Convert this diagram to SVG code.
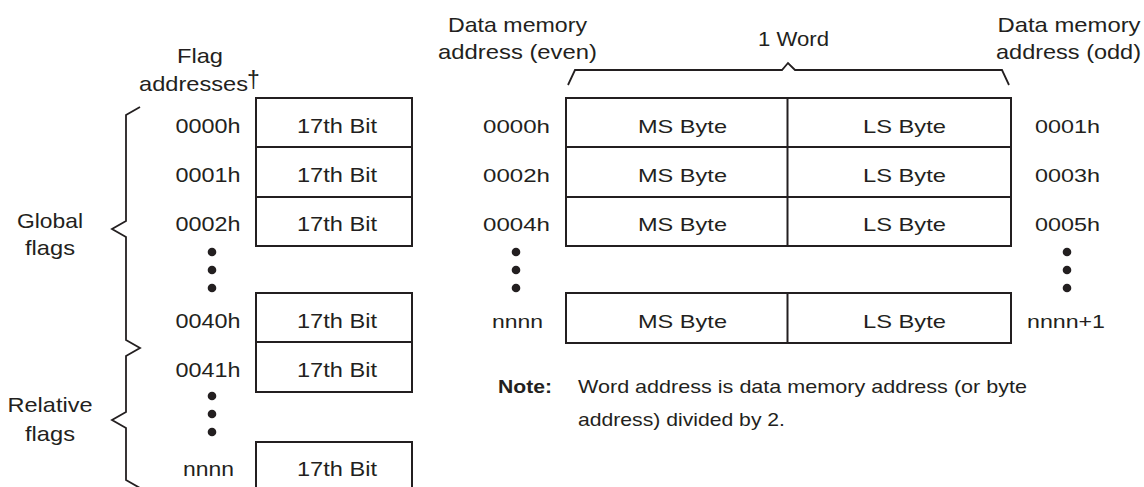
<svg xmlns="http://www.w3.org/2000/svg" width="1144" height="487" viewBox="0 0 1144 487">
<style>
text{font-family:"Liberation Sans",Arial,sans-serif;fill:#231f20}
.big{font-size:21px}
.sm{font-size:18.5px}
.c{text-anchor:middle}
.b{font-weight:bold}
.box{fill:#fff;stroke:#231f20;stroke-width:2}
.ln{fill:none;stroke:#231f20;stroke-width:1.8;stroke-linejoin:miter}
.dot{fill:#231f20}
</style>
<rect width="1144" height="487" fill="#fff"/>

<g id="flag-header">
<text class="big c" x="200" y="63" textLength="46" lengthAdjust="spacingAndGlyphs">Flag</text>
<text class="big" x="139" y="91" textLength="109" lengthAdjust="spacingAndGlyphs">addresses</text>
<text x="253.5" y="88" style="font-size:23px" text-anchor="middle">†</text>
</g>

<g id="global-label">
<text class="big c" x="50" y="228" textLength="66" lengthAdjust="spacingAndGlyphs">Global</text>
<text class="big c" x="50" y="255" textLength="50" lengthAdjust="spacingAndGlyphs">flags</text>
</g>
<g id="relative-label">
<text class="big c" x="50" y="412" textLength="85" lengthAdjust="spacingAndGlyphs">Relative</text>
<text class="big c" x="50" y="441" textLength="50" lengthAdjust="spacingAndGlyphs">flags</text>
</g>

<g id="flag-0000h">
<rect class="box" x="256" y="98" width="156" height="49"/>
<text class="big c" x="208" y="133" textLength="65" lengthAdjust="spacingAndGlyphs">0000h</text>
<text class="big c" x="337" y="133" textLength="80" lengthAdjust="spacingAndGlyphs">17th Bit</text>
</g>
<g id="flag-0001h">
<rect class="box" x="256" y="147" width="156" height="50"/>
<text class="big c" x="208" y="182" textLength="65" lengthAdjust="spacingAndGlyphs">0001h</text>
<text class="big c" x="337" y="182" textLength="80" lengthAdjust="spacingAndGlyphs">17th Bit</text>
</g>
<g id="flag-0002h">
<rect class="box" x="256" y="197" width="156" height="49"/>
<text class="big c" x="208" y="231" textLength="65" lengthAdjust="spacingAndGlyphs">0002h</text>
<text class="big c" x="337" y="231" textLength="80" lengthAdjust="spacingAndGlyphs">17th Bit</text>
</g>
<g id="flag-dots-1">
<circle class="dot" cx="212" cy="252" r="4.3"/>
<circle class="dot" cx="212" cy="270" r="4.3"/>
<circle class="dot" cx="212" cy="288" r="4.3"/>
</g>
<g id="flag-0040h">
<rect class="box" x="256" y="293" width="156" height="49"/>
<text class="big c" x="208" y="328" textLength="65" lengthAdjust="spacingAndGlyphs">0040h</text>
<text class="big c" x="337" y="328" textLength="80" lengthAdjust="spacingAndGlyphs">17th Bit</text>
</g>
<g id="flag-0041h">
<rect class="box" x="256" y="342" width="156" height="50"/>
<text class="big c" x="208" y="377" textLength="65" lengthAdjust="spacingAndGlyphs">0041h</text>
<text class="big c" x="337" y="377" textLength="80" lengthAdjust="spacingAndGlyphs">17th Bit</text>
</g>
<g id="flag-dots-2">
<circle class="dot" cx="212" cy="396" r="4.3"/>
<circle class="dot" cx="212" cy="414" r="4.3"/>
<circle class="dot" cx="212" cy="432" r="4.3"/>
</g>
<g id="flag-nnnn">
<rect class="box" x="256" y="442" width="156" height="50"/>
<text class="big c" x="208.5" y="476" textLength="51" lengthAdjust="spacingAndGlyphs">nnnn</text>
<text class="big c" x="337" y="476" textLength="80" lengthAdjust="spacingAndGlyphs">17th Bit</text>
</g>

<g id="data-header">
<text class="big c" x="517.5" y="32" textLength="139" lengthAdjust="spacingAndGlyphs">Data memory</text>
<text class="big c" x="517.5" y="59" textLength="159" lengthAdjust="spacingAndGlyphs">address (even)</text>
<text class="big c" x="793.5" y="46" textLength="71" lengthAdjust="spacingAndGlyphs">1 Word</text>
<text class="big c" x="1069" y="32" textLength="143" lengthAdjust="spacingAndGlyphs">Data memory</text>
<text class="big c" x="1068.5" y="59" textLength="145" lengthAdjust="spacingAndGlyphs">address (odd)</text>
</g>

<g id="word-0000h">
<rect class="box" x="566" y="98" width="445" height="49"/>
<line class="box" x1="787.5" y1="98" x2="787.5" y2="147"/>
<text class="sm c" x="516.5" y="133" textLength="67" lengthAdjust="spacingAndGlyphs">0000h</text>
<text class="sm c" x="682.5" y="133" textLength="89" lengthAdjust="spacingAndGlyphs">MS Byte</text>
<text class="sm c" x="904.5" y="133" textLength="83" lengthAdjust="spacingAndGlyphs">LS Byte</text>
<text class="sm c" x="1067.5" y="133" textLength="65" lengthAdjust="spacingAndGlyphs">0001h</text>
</g>
<g id="word-0002h">
<rect class="box" x="566" y="147" width="445" height="50"/>
<line class="box" x1="787.5" y1="147" x2="787.5" y2="197"/>
<text class="sm c" x="516.5" y="182" textLength="67" lengthAdjust="spacingAndGlyphs">0002h</text>
<text class="sm c" x="682.5" y="182" textLength="89" lengthAdjust="spacingAndGlyphs">MS Byte</text>
<text class="sm c" x="904.5" y="182" textLength="83" lengthAdjust="spacingAndGlyphs">LS Byte</text>
<text class="sm c" x="1067.5" y="182" textLength="65" lengthAdjust="spacingAndGlyphs">0003h</text>
</g>
<g id="word-0004h">
<rect class="box" x="566" y="197" width="445" height="49"/>
<line class="box" x1="787.5" y1="197" x2="787.5" y2="246"/>
<text class="sm c" x="516.5" y="231" textLength="67" lengthAdjust="spacingAndGlyphs">0004h</text>
<text class="sm c" x="682.5" y="231" textLength="89" lengthAdjust="spacingAndGlyphs">MS Byte</text>
<text class="sm c" x="904.5" y="231" textLength="83" lengthAdjust="spacingAndGlyphs">LS Byte</text>
<text class="sm c" x="1067.5" y="231" textLength="65" lengthAdjust="spacingAndGlyphs">0005h</text>
</g>
<g id="word-dots">
<circle class="dot" cx="516" cy="252" r="4.3"/>
<circle class="dot" cx="516" cy="270" r="4.3"/>
<circle class="dot" cx="516" cy="288" r="4.3"/>
<circle class="dot" cx="1067" cy="252" r="4.3"/>
<circle class="dot" cx="1067" cy="270" r="4.3"/>
<circle class="dot" cx="1067" cy="288" r="4.3"/>
</g>
<g id="word-nnnn">
<rect class="box" x="566" y="293" width="445" height="50"/>
<line class="box" x1="787.5" y1="293" x2="787.5" y2="343"/>
<text class="sm c" x="517.5" y="328" textLength="51" lengthAdjust="spacingAndGlyphs">nnnn</text>
<text class="sm c" x="682.5" y="328" textLength="89" lengthAdjust="spacingAndGlyphs">MS Byte</text>
<text class="sm c" x="904.5" y="328" textLength="83" lengthAdjust="spacingAndGlyphs">LS Byte</text>
<text class="sm c" x="1066" y="328" textLength="78" lengthAdjust="spacingAndGlyphs">nnnn+1</text>
</g>

<g id="note">
<text class="sm b" x="498" y="393" textLength="54" lengthAdjust="spacingAndGlyphs">Note:</text>
<text class="sm" x="578" y="393" textLength="449" lengthAdjust="spacingAndGlyphs">Word address is data memory address (or byte</text>
<text class="sm" x="578" y="426" textLength="207" lengthAdjust="spacingAndGlyphs">address) divided by 2.</text>
</g>

<g id="connectors">
<path class="ln" d="M140,107 L126,115 L126,221 L112,229 L126,237 L126,340 L140,348 L126,356 L126,412 L112,420 L126,428 L126,480 L140,488"/>
<path class="ln" d="M568,85 L575,70 L782,70 L788,63 L795,70 L1002,70 L1009,85"/>
</g>
</svg>
